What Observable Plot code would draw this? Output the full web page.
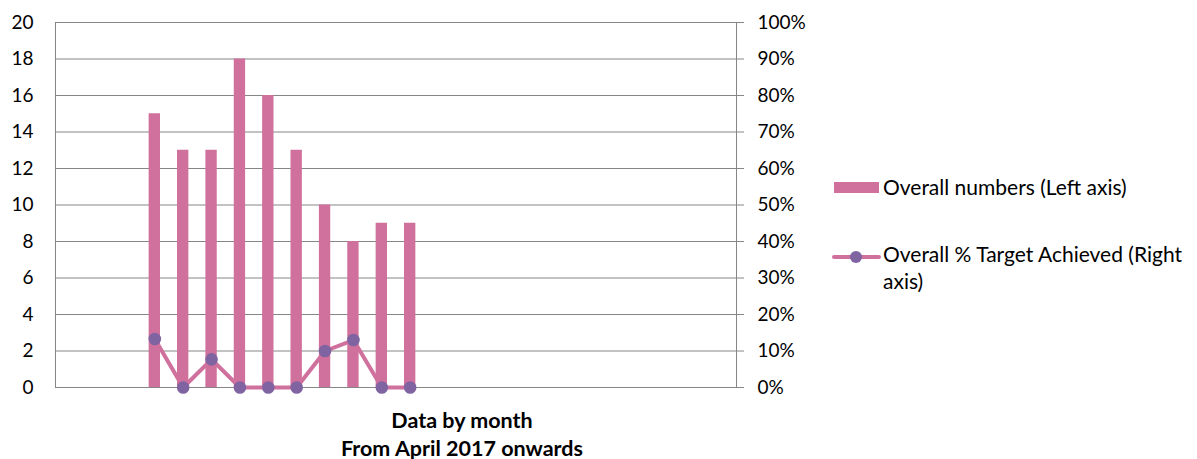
<!DOCTYPE html>
<html>
<head>
<meta charset="utf-8">
<script src="https://cdn.jsdelivr.net/npm/d3@7"></script>
<script src="https://cdn.jsdelivr.net/npm/@observablehq/plot@0.6"></script>
<style>
  html, body { margin: 0; padding: 0; background: #fff; }
  #wrap { position: relative; width: 1197px; height: 459px; font-family: Lato, "Noto Sans", sans-serif; color: #000; }
  #chart { position: absolute; left: 0; top: 0; }
  .leg { position: absolute; font-size: 21px; line-height: 27px; }
  .title { position: absolute; left: 262px; width: 400px; text-align: center; font-weight: bold; font-size: 21.5px; line-height: 26px; }
</style>
</head>
<body>
<div id="wrap">
  <div id="chart"></div>
  <svg style="position:absolute;left:0;top:0" width="1197" height="459">
    <rect x="834" y="182" width="45" height="11" fill="#D0709C"></rect>
    <line x1="834" x2="879" y1="257" y2="257" stroke="#D0709C" stroke-width="4" stroke-linecap="round"></line>
    <circle cx="856" cy="257" r="6" fill="#8064A2"></circle>
  </svg>
  <div class="leg" style="left:883px;top:173px;">Overall numbers (Left axis)</div>
  <div class="leg" style="left:883px;top:240px;width:318px;">Overall % Target Achieved (Right axis)</div>
  <div class="title" style="top:407px;">Data by month</div>
  <div class="title" style="top:435px;">From April 2017 onwards</div>
</div>
<script>
const months = ["Jan 2017","Feb 2017","Mar 2017","Apr 2017","May 2017","Jun 2017","Jul 2017","Aug 2017","Sep 2017","Oct 2017","Nov 2017","Dec 2017",
                "Jan 2018","Feb 2018","Mar 2018","Apr 2018","May 2018","Jun 2018","Jul 2018","Aug 2018","Sep 2018","Oct 2018","Nov 2018","Dec 2018"];
const overallNumbers = [null,null,null,15,13,13,18,16,13,10,8,9,9,null,null,null,null,null,null,null,null,null,null,null];
const pctAchieved = [null,null,null,0.133,0,0.077,0,0,0,0.10,0.13,0,0,null,null,null,null,null,null,null,null,null,null,null];
const leftTicks = [0,2,4,6,8,10,12,14,16,18,20];

const rows = months.map((m, i) => ({month: m, n: overallNumbers[i], pct: pctAchieved[i]}));
const defined = rows.filter(d => d.n != null);

const pink = "#D0709C", purple = "#8064A2", grid = "#868686";

const chart = Plot.plot({
  width: 830,
  height: 459,
  marginTop: 22,
  marginBottom: 72,
  marginLeft: 55,
  marginRight: 94,
  style: {fontFamily: "Lato, 'Noto Sans', sans-serif", fontSize: "19px", color: "#000", background: "transparent"},
  x: {domain: months, paddingInner: 0.6, paddingOuter: 0.3, round: false, axis: null},
  y: {domain: [0, 20]},
  marks: [
    Plot.gridY(leftTicks, {stroke: grid, strokeOpacity: 1, strokeWidth: 1}),
    Plot.frame({stroke: grid, strokeWidth: 1}),
    Plot.axisY(leftTicks, {anchor: "left", tickSize: 0, tickPadding: 22, label: null, fill: "#000"}),
    Plot.axisY(leftTicks, {anchor: "right", tickSize: 7, tickPadding: 14, label: null, stroke: grid, fill: "#000",
      tickFormat: d => (d * 5) + "%", textAnchor: "start"}),
    Plot.barY(defined, {x: "month", y: "n", fill: pink}),
    Plot.line(defined, {x: "month", y: d => d.pct * 20, stroke: pink, strokeWidth: 4, curve: "linear"}),
    Plot.dot(defined, {x: "month", y: d => d.pct * 20, r: 6.3, fill: purple, stroke: "none"})
  ]
});
document.getElementById("chart").appendChild(chart);
</script>
</body>
</html>
